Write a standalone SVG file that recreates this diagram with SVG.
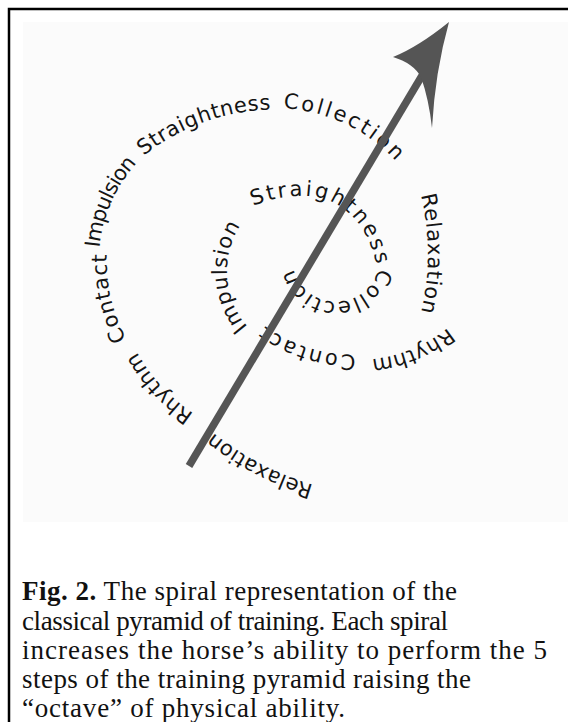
<svg xmlns="http://www.w3.org/2000/svg" xmlns:xlink="http://www.w3.org/1999/xlink" width="568" height="722" viewBox="0 0 568 722">
<style>
.sp{font-family:"DejaVu Sans","Open Sans",sans-serif;font-size:21px;fill:#141414}
.cap{font-family:"Liberation Serif","Times New Roman",serif;font-size:27px;fill:#111}
</style>
<defs>
<path id="w1" d="M355.6,494.0 A294,294 0 0 1 181.5,403.4"/>
<path id="w2" d="M217.5,426.7 A174,174 0 0 1 125.7,326.5"/>
<path id="w3" d="M140.5,360.6 A164,164 0 0 1 109.9,228.1"/>
<path id="w4" d="M100.7,281.5 A144,144 0 0 1 161.5,141.5"/>
<path id="w5" d="M120.8,176.9 A214,214 0 0 1 302.1,110.9"/>
<path id="w6" d="M268.0,108.3 A164,164 0 0 1 407.0,174.6"/>
<path id="w7" d="M415.0,175.4 A244,244 0 0 1 415.0,332.6"/>
<path id="w8" d="M464.6,311.4 A144,144 0 0 1 347.9,359.7"/>
<path id="w9" d="M371.0,353.9 A154,154 0 0 1 251.0,314.9"/>
<path id="w10" d="M262.7,339.9 A84,84 0 0 1 253.6,209.7"/>
<path id="w11" d="M253,206 Q279,195 307,196 Q339,198 359,224 Q373,243 378,272 L380,292"/>
<path id="w12" d="M379.3,265.6 A44,44 0 0 1 292.7,265.6"/>
</defs>
<rect x="0" y="0" width="568" height="722" fill="#ffffff"/>
<rect x="23" y="22" width="545" height="500" fill="#fbfbfb"/>
<rect x="9" y="9" width="620" height="760" fill="none" stroke="#000" stroke-width="2.5"/>
<g id="spiral-text">
<g id="n1"><text class="sp" letter-spacing="0.3"><textPath href="#w1" xlink:href="#w1" startOffset="50%" text-anchor="middle">Relaxation</textPath></text></g>
<g id="n2"><text class="sp" letter-spacing="0.5"><textPath href="#w2" xlink:href="#w2" startOffset="50%" text-anchor="middle">Rhythm</textPath></text></g>
<g id="n3"><text class="sp" letter-spacing="1"><textPath href="#w3" xlink:href="#w3" startOffset="50%" text-anchor="middle">Contact</textPath></text></g>
<g id="n4"><text class="sp" letter-spacing="-1"><textPath href="#w4" xlink:href="#w4" startOffset="50%" text-anchor="middle">Impulsion</textPath></text></g>
<g id="n5"><text class="sp" letter-spacing="0.5"><textPath href="#w5" xlink:href="#w5" startOffset="50%" text-anchor="middle">Straightness</textPath></text></g>
<g id="n6"><text class="sp" letter-spacing="2.6"><textPath href="#w6" xlink:href="#w6" startOffset="50%" text-anchor="middle">Collection</textPath></text></g>
<g id="n7"><text class="sp" letter-spacing="0.8"><textPath href="#w7" xlink:href="#w7" startOffset="50%" text-anchor="middle">Relaxation</textPath></text></g>
<g id="n8"><text class="sp" letter-spacing="0.3"><textPath href="#w8" xlink:href="#w8" startOffset="50%" text-anchor="middle">Rhythm</textPath></text></g>
<g id="n9"><text class="sp" letter-spacing="2.5"><textPath href="#w9" xlink:href="#w9" startOffset="50%" text-anchor="middle">Contact</textPath></text></g>
<g id="n10"><text class="sp" letter-spacing="0.8"><textPath href="#w10" xlink:href="#w10" startOffset="50%" text-anchor="middle">Impulsion</textPath></text></g>
<g id="n11"><text class="sp" letter-spacing="2.6"><textPath href="#w11" xlink:href="#w11">Straightness</textPath></text></g>
<g id="n12"><text class="sp" letter-spacing="1.4"><textPath href="#w12" xlink:href="#w12" startOffset="50%" text-anchor="middle">Collection</textPath></text></g>
</g>
<g id="connectors">
<line x1="189" y1="466" x2="423" y2="74" stroke="#555" stroke-width="7.5"/>
<path d="M449,22 Q418,47 393,57 Q413,63 421,77 Q429,100 432,128 Q435,72 449,22 Z" fill="#555"/>
</g>
<g id="caption">
<text class="cap" x="22" y="600" textLength="435" lengthAdjust="spacing"><tspan font-weight="bold">Fig. 2.</tspan> The spiral representation of the</text>
<text class="cap" x="22" y="629.5" textLength="426" lengthAdjust="spacing">classical pyramid of training. Each spiral</text>
<text class="cap" x="22" y="659" textLength="525" lengthAdjust="spacing">increases the horse’s ability to perform the 5</text>
<text class="cap" x="22" y="688" textLength="449" lengthAdjust="spacing">steps of the training pyramid raising the</text>
<text class="cap" x="22" y="717" textLength="323" lengthAdjust="spacing">“octave” of physical ability.</text>
</g>
</svg>
